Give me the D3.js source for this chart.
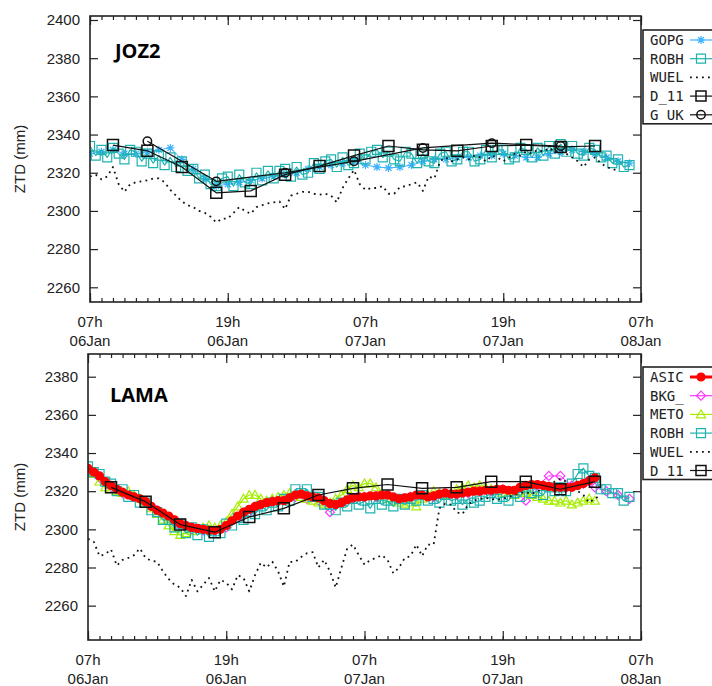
<!DOCTYPE html>
<html>
<head>
<meta charset="utf-8">
<script src="https://cdn.jsdelivr.net/npm/d3@7"></script>
<style>
body { margin: 0; background: #fff; }
svg { display: block; }
.lbl { font-family: "Liberation Sans", Arial, sans-serif; font-size: 15px; fill: #222; }
.leg { font-family: "DejaVu Sans Mono", monospace; font-size: 14px; fill: #222; }
.ttl { font-family: "Open Sans", sans-serif; font-weight: bold; font-size: 20px; fill: #000; }
</style>
</head>
<body>
<svg id="chart"></svg>
<script>
var width = 712;
var height = 686;

// time axis: 07h 06Jan -> 07h 08Jan
var startTime = Date.UTC(2013, 0, 6, 7);
var hourMs = 3600 * 1000;
var spanHours = 48;

// ---- JOZ2 (top panel) ----
// hourly
var joz2Gopg = [2330, 2331, 2332, 2330, 2330, 2331, 2332, 2333, 2327, 2322,
  2317, 2313, 2314, 2315, 2316, 2317, 2318, 2319, 2320, 2322,
  2323, 2324, 2325, 2326, 2324, 2323, 2322.5, 2323, 2324, 2326,
  2327, 2327, 2328, 2328, 2329, 2329, 2330, 2329, 2328, 2328,
  2330, 2331, 2332, 2331, 2330, 2328, 2326, 2325];
// half-hourly
var joz2Robh = [2334, 2329, 2332, 2328, 2333, 2330, 2327, 2332, 2331, 2326,
  2330, 2325, 2329, 2324, 2328, 2323, 2326, 2321, 2322, 2317,
  2319, 2314, 2313, 2317, 2318, 2313, 2319, 2315, 2314, 2320,
  2316, 2321, 2317, 2321, 2322, 2318, 2323, 2319, 2320, 2325,
  2322, 2326, 2327, 2323, 2328, 2324, 2325, 2330, 2327, 2331,
  2332, 2328, 2331, 2327, 2326, 2331, 2330, 2325, 2330, 2326,
  2325, 2330, 2331, 2326, 2327, 2331, 2331, 2326, 2327, 2332,
  2328, 2332, 2332, 2327, 2328, 2333, 2332, 2328, 2333, 2329,
  2334, 2330, 2335, 2331, 2334, 2330, 2329, 2333, 2332, 2328,
  2329, 2325, 2327, 2323, 2324];
var joz2Wuel = [2318, 2319, 2316.5, 2318, 2323, 2314, 2310, 2314, 2315, 2315.5,
  2316, 2317, 2317, 2315, 2311, 2308, 2305, 2303, 2302, 2300,
  2299, 2297, 2294, 2296, 2296, 2299, 2302, 2300, 2298.5, 2302,
  2303, 2304, 2304.5, 2305, 2301, 2308, 2309, 2310, 2310, 2309,
  2308.5, 2309, 2308, 2304.5, 2312, 2317, 2321.5, 2314, 2311, 2312,
  2312, 2313, 2309, 2309, 2312.5, 2313, 2314, 2315, 2310.5, 2318,
  2317, 2326, 2328, 2326, 2327, 2328, 2327, 2329, 2328, 2326,
  2329, 2328, 2326, 2328, 2330, 2329, 2331, 2330, 2332, 2331,
  2333, 2331, 2332, 2330, 2328, 2326, 2323, 2327, 2328, 2325,
  2323, 2322, 2321];
var joz2D11Hours = [2, 5, 8, 11, 14, 17, 20, 23, 26, 29, 32, 35, 38, 41, 44];
var joz2D11 = [2334.5, 2331.5, 2323, 2309.5, 2310.5, 2319, 2323.5, 2329, 2334, 2332, 2331.5, 2334, 2334.5, 2333.5, 2334];
var joz2GukHours = [5, 11, 17, 23, 29, 35, 41];
var joz2Guk = [2336.5, 2315.5, 2320, 2326, 2333, 2335.5, 2334];
var joz2YTicks = [2260, 2280, 2300, 2320, 2340, 2360, 2380, 2400];

// ---- LAMA (bottom panel) ----
// half-hourly
var lamaAsic = [2332, 2330, 2328, 2325, 2323, 2321, 2319.5, 2318, 2317, 2316,
  2314.5, 2312, 2310, 2308.5, 2307, 2305, 2303, 2302, 2301, 2300.5,
  2300, 2299.5, 2299.5, 2300, 2302, 2304.5, 2307, 2309, 2310.5, 2312,
  2313, 2314, 2314.5, 2315, 2315, 2316.5, 2318, 2318.5, 2317.5, 2317,
  2316.5, 2315, 2313.5, 2313, 2314, 2315.5, 2316.5, 2317, 2317, 2317.5,
  2317.5, 2318, 2318, 2317, 2316, 2316.5, 2317, 2318, 2318, 2317,
  2317.5, 2318.5, 2319, 2318.5, 2318.5, 2319, 2319.5, 2320, 2320, 2320.5,
  2320.5, 2321, 2321, 2320.5, 2320.5, 2322, 2323, 2323.5, 2323.5, 2323,
  2322.5, 2322, 2322, 2322, 2322, 2323, 2324, 2325.5, 2327];
// hourly
var lamaBkg = [2331, 2327, 2322, 2319, 2317, 2314, 2310, 2306, 2302, 2300,
  2299.5, 2299, 2301, 2306, 2309, 2313, 2315, 2316, 2317, 2316,
  2315, 2309, 2314, 2316, 2317, 2317, 2318, 2316, 2317, 2318,
  2317, 2319, 2318, 2319, 2320, 2320, 2321, 2320, 2315, 2323,
  2328, 2328, 2323, 2324, 2322, 2320, 2318, 2316];
// half-hourly
var lamaMeto = [2331, 2329, 2325, 2322, 2321, 2320, 2319, 2320, 2318, 2316,
  2314, 2311, 2308, 2305, 2302, 2299, 2297, 2298, 2299, 2300,
  2301, 2302, 2301, 2302, 2304, 2308, 2312, 2316, 2318, 2318,
  2316, 2315, 2316, 2317, 2318, 2319, 2318, 2317, 2316, 2315,
  2314, 2313, 2314, 2316, 2318, 2321, 2323, 2322, 2324, 2324,
  2322, 2318, 2316, 2315, 2314, 2313, 2314, 2312, 2316, 2318,
  2320, 2319, 2318, 2319, 2321, 2322, 2323, 2322, 2323, 2322,
  2321, 2320, 2319, 2319, 2318, 2320, 2319, 2318, 2317, 2316,
  2315, 2315, 2314, 2315, 2313, 2314, 2315, 2316, 2315];
var lamaRobh = [2333, 2330, 2329, 2325, 2324, 2320, 2321, 2317, 2318, 2314,
  2314, 2310, 2309, 2305, 2305, 2301, 2303, 2298, 2301, 2297,
  2300, 2296, 2299, 2298, 2303, 2302, 2306, 2305, 2309, 2308,
  2312, 2310, 2314, 2312, 2316, 2315, 2321, 2319, 2321, 2317,
  2317, 2313, 2313, 2310, 2314, 2312, 2316, 2313, 2315, 2311,
  2316, 2313, 2315, 2312, 2316, 2313, 2316, 2315, 2318, 2315,
  2316, 2314, 2318, 2315, 2316, 2313, 2316, 2314, 2315, 2317,
  2319, 2316, 2317, 2315, 2319, 2317, 2322, 2319, 2320, 2318,
  2322, 2320, 2322, 2320, 2324, 2329, 2332, 2328, 2327, 2321,
  2321, 2319, 2319, 2315, 2317];
var lamaWuel = [2295, 2293.5, 2286, 2287, 2289.5, 2281, 2284, 2285, 2286.5, 2290,
  2285, 2283.5, 2283, 2278, 2274, 2271, 2269.5, 2265, 2273.5, 2267.5,
  2271, 2274.5, 2267.5, 2273.5, 2272, 2268.5, 2276, 2274.5, 2267.5, 2276,
  2282.5, 2280, 2283, 2278, 2270, 2283, 2283, 2285.5, 2287.5, 2288,
  2280, 2284, 2278, 2269.5, 2280, 2290, 2292, 2286.5, 2281.5, 2284,
  2285, 2286.5, 2284, 2277, 2280, 2285, 2286, 2292, 2286, 2292,
  2292, 2311, 2313.5, 2313, 2309, 2308, 2313, 2315, 2316, 2316.5,
  2316, 2315.5, 2316, 2317, 2318, 2319, 2319.5, 2318.5, 2320, 2321,
  2322, 2325, 2326.5, 2325, 2322, 2320, 2318, 2314, 2316, 2318];
var lamaD11Hours = [2, 5, 8, 11, 14, 17, 20, 23, 26, 29, 32, 35, 38, 41, 44];
var lamaD11 = [2322, 2314.5, 2302.5, 2298.5, 2306.5, 2311, 2318, 2321.5, 2323.5, 2321.5, 2322, 2325, 2325, 2321, 2325];
var lamaYTicks = [2260, 2280, 2300, 2320, 2340, 2360, 2380];

var teal = "#1fb3b0";

function stepped(values, stepHours) {
  return values.map(function (v, i) {
    return { t: new Date(startTime + i * stepHours * hourMs), v: v };
  });
}
function atHours(hours, values) {
  return hours.map(function (h, i) {
    return { t: new Date(startTime + h * hourMs), v: values[i] };
  });
}

var panels = [
  {
    id: "joz2", title: "JOZ2", titleX: 115, titleY: 58,
    left: 90, right: 641, top: 16, bottom: 302,
    yMin: 2252.3, yMax: 2402.1, yTicks: joz2YTicks,
    legendY: 40,
    series: [
      { name: "GOPG", data: stepped(joz2Gopg, 1), color: "#3db2ff", marker: "star", size: 4, width: 1 },
      { name: "ROBH", data: stepped(joz2Robh, 0.5), color: teal, marker: "square", size: 4.5, width: 1.2 },
      { name: "WUEL", data: stepped(joz2Wuel, 0.5), color: "#111", dotted: true },
      { name: "D_11", data: atHours(joz2D11Hours, joz2D11), color: "#111", marker: "square", size: 5.5, width: 1.2, mw: 1.5 },
      { name: "G_UK", data: atHours(joz2GukHours, joz2Guk), color: "#111", marker: "circle", size: 4.2, width: 1.2, mw: 1.5 }
    ],
    drawOrder: ["GOPG", "ROBH", "WUEL", "G_UK", "D_11"]
  },
  {
    id: "lama", title: "LAMA", titleX: 110, titleY: 402,
    left: 88, right: 641, top: 354, bottom: 640,
    yMin: 2242, yMax: 2391.9, yTicks: lamaYTicks,
    legendY: 377,
    series: [
      { name: "ASIC", data: stepped(lamaAsic, 0.5), color: "#ff0000", marker: "fcircle", size: 4, width: 5.5 },
      { name: "BKG_", data: stepped(lamaBkg, 1), color: "#ff33ff", marker: "diamond", size: 4.5, width: 1 },
      { name: "METO", data: stepped(lamaMeto, 0.5), color: "#a6ee00", marker: "triangle", size: 4.5, width: 1.2 },
      { name: "ROBH", data: stepped(lamaRobh, 0.5), color: teal, marker: "square", size: 4.5, width: 1.2 },
      { name: "WUEL", data: stepped(lamaWuel, 0.5), color: "#111", dotted: true },
      { name: "D_11", data: atHours(lamaD11Hours, lamaD11), color: "#111", marker: "square", size: 5.5, width: 1.2, mw: 1.5 }
    ],
    drawOrder: ["BKG_", "METO", "ROBH", "WUEL", "ASIC", "D_11"]
  }
];

var svg = d3.select("#chart")
  .attr("width", width)
  .attr("height", height);

function markerPath(type, s) {
  var k = s * 0.75;
  if (type == "square") {
    return "M" + (-s) + "," + (-s) + "h" + (2 * s) + "v" + (2 * s) + "h" + (-2 * s) + "Z";
  } else if (type == "diamond") {
    return "M0," + (-s) + "L" + s + ",0L0," + s + "L" + (-s) + ",0Z";
  } else if (type == "triangle") {
    return "M0," + (-s) + "L" + s + "," + k + "L" + (-s) + "," + k + "Z";
  } else if (type == "star") {
    return "M" + (-s) + ",0H" + s + "M0," + (-s) + "V" + s +
      "M" + (-k) + "," + (-k) + "L" + k + "," + k + "M" + (-k) + "," + k + "L" + k + "," + (-k);
  }
  // circle / fcircle
  return "M" + s + ",0A" + s + "," + s + " 0 1,1 " + (-s) + ",0A" + s + "," + s + " 0 1,1 " + s + ",0Z";
}

function drawSeries(g, s, x, y) {
  var line = d3.line()
    .x(function (d) { return x(d.t); })
    .y(function (d) { return y(d.v); });

  var path = g.append("path")
    .datum(s.data)
    .attr("d", line)
    .attr("fill", "none")
    .attr("stroke", s.color)
    .attr("stroke-linejoin", "round");
  if (s.dotted) {
    path.attr("stroke-width", 1.8).attr("stroke-dasharray", "1.8,4.2");
    return;
  }
  path.attr("stroke-width", s.width);

  g.selectAll(null)
    .data(s.data)
    .enter().append("path")
    .attr("transform", function (d) { return "translate(" + x(d.t) + "," + y(d.v) + ")"; })
    .attr("d", markerPath(s.marker, s.size))
    .attr("fill", s.marker == "fcircle" ? s.color : "none")
    .attr("stroke", s.color)
    .attr("stroke-width", s.mw || 1.2);
}

function drawPanel(p) {
  var g = svg.append("g");
  var t0 = new Date(startTime);
  var t1 = new Date(startTime + spanHours * hourMs);

  var x = d3.scaleTime().domain([t0, t1]).range([p.left, p.right]);
  var y = d3.scaleLinear().domain([p.yMin, p.yMax]).range([p.bottom, p.top]);

  svg.append("clipPath").attr("id", "clip-" + p.id)
    .append("rect")
    .attr("x", p.left).attr("y", p.top)
    .attr("width", p.right - p.left).attr("height", p.bottom - p.top);

  var plot = g.append("g").attr("clip-path", "url(#clip-" + p.id + ")");
  var byName = {};
  p.series.forEach(function (s) { byName[s.name] = s; });
  p.drawOrder.forEach(function (n) { drawSeries(plot, byName[n], x, y); });

  // ticks
  var minors = d3.utcHour.range(t0, new Date(+t1 + 1));
  var majors = d3.utcHour.range(t0, new Date(+t1 + 1), 12);

  function tidy(ax) {
    ax.select(".domain").remove();
    ax.selectAll(".tick line").attr("stroke", "#222").attr("stroke-width", 1.2);
  }

  g.append("g").attr("transform", "translate(0," + p.bottom + ")")
    .call(d3.axisBottom(x).tickValues(minors).tickSize(-4).tickFormat("")).call(tidy);
  g.append("g").attr("transform", "translate(0," + p.bottom + ")")
    .call(d3.axisBottom(x).tickValues(majors).tickSize(-9).tickFormat("")).call(tidy);
  g.append("g").attr("transform", "translate(0," + p.top + ")")
    .call(d3.axisTop(x).tickValues(minors).tickSize(-4).tickFormat("")).call(tidy);
  g.append("g").attr("transform", "translate(0," + p.top + ")")
    .call(d3.axisTop(x).tickValues(majors).tickSize(-9).tickFormat("")).call(tidy);

  var yl = g.append("g").attr("transform", "translate(" + p.left + ",0)")
    .call(d3.axisLeft(y).tickValues(p.yTicks).tickSize(-8).tickPadding(10).tickFormat(d3.format("d")))
    .call(tidy);
  yl.selectAll(".tick text").attr("class", "lbl").attr("font-size", null).attr("font-family", null);
  yl.attr("font-size", null).attr("font-family", null);

  g.append("g").attr("transform", "translate(" + p.right + ",0)")
    .call(d3.axisRight(y).tickValues(p.yTicks).tickSize(-8).tickFormat(""))
    .call(tidy);

  // two-line time labels
  var hourFmt = d3.utcFormat("%Hh");
  var dayFmt = d3.utcFormat("%d%b");
  var xl = g.selectAll(null).data(majors).enter().append("text")
    .attr("class", "lbl")
    .attr("text-anchor", "middle");
  xl.append("tspan")
    .attr("x", function (d) { return x(d); })
    .attr("y", p.bottom + 25)
    .text(hourFmt);
  xl.append("tspan")
    .attr("x", function (d) { return x(d); })
    .attr("y", p.bottom + 44)
    .text(dayFmt);

  // frame
  g.append("rect")
    .attr("x", p.left).attr("y", p.top)
    .attr("width", p.right - p.left).attr("height", p.bottom - p.top)
    .attr("fill", "none").attr("stroke", "#222").attr("stroke-width", 1.6);

  g.append("text")
    .attr("class", "lbl")
    .attr("font-size", 14)
    .attr("text-anchor", "middle")
    .attr("transform", "translate(25," + ((p.top + p.bottom) / 2) + ") rotate(-90)")
    .text("ZTD (mm)");

  g.append("text")
    .attr("class", "ttl")
    .attr("x", p.titleX).attr("y", p.titleY)
    .text(p.title);

  // key
  var step = 18.7;
  var n = p.series.length;
  var lg = g.append("g");
  lg.append("rect")
    .attr("x", 643).attr("y", p.legendY - 10)
    .attr("width", 90).attr("height", (n - 1) * step + 19)
    .attr("fill", "#fff").attr("stroke", "#222").attr("stroke-width", 1.6);

  p.series.forEach(function (s, i) {
    var ry = p.legendY + i * step;
    lg.append("text")
      .attr("class", "leg")
      .attr("x", 650).attr("y", ry)
      .attr("dy", "0.36em")
      .text(s.name);
    var ln = lg.append("line")
      .attr("x1", 690).attr("x2", 714)
      .attr("y1", ry).attr("y2", ry)
      .attr("stroke", s.color);
    if (s.dotted) {
      ln.attr("stroke-width", 1.8).attr("stroke-dasharray", "1.8,4.2");
    } else {
      ln.attr("stroke-width", s.name == "ASIC" ? 3 : 1.2);
      lg.append("path")
        .attr("transform", "translate(701," + ry + ")")
        .attr("d", markerPath(s.marker, Math.min(s.size, 5)))
        .attr("fill", s.marker == "fcircle" ? s.color : "none")
        .attr("stroke", s.color)
        .attr("stroke-width", s.mw || 1.2);
    }
  });
}

panels.forEach(drawPanel);
</script>
</body>
</html>
